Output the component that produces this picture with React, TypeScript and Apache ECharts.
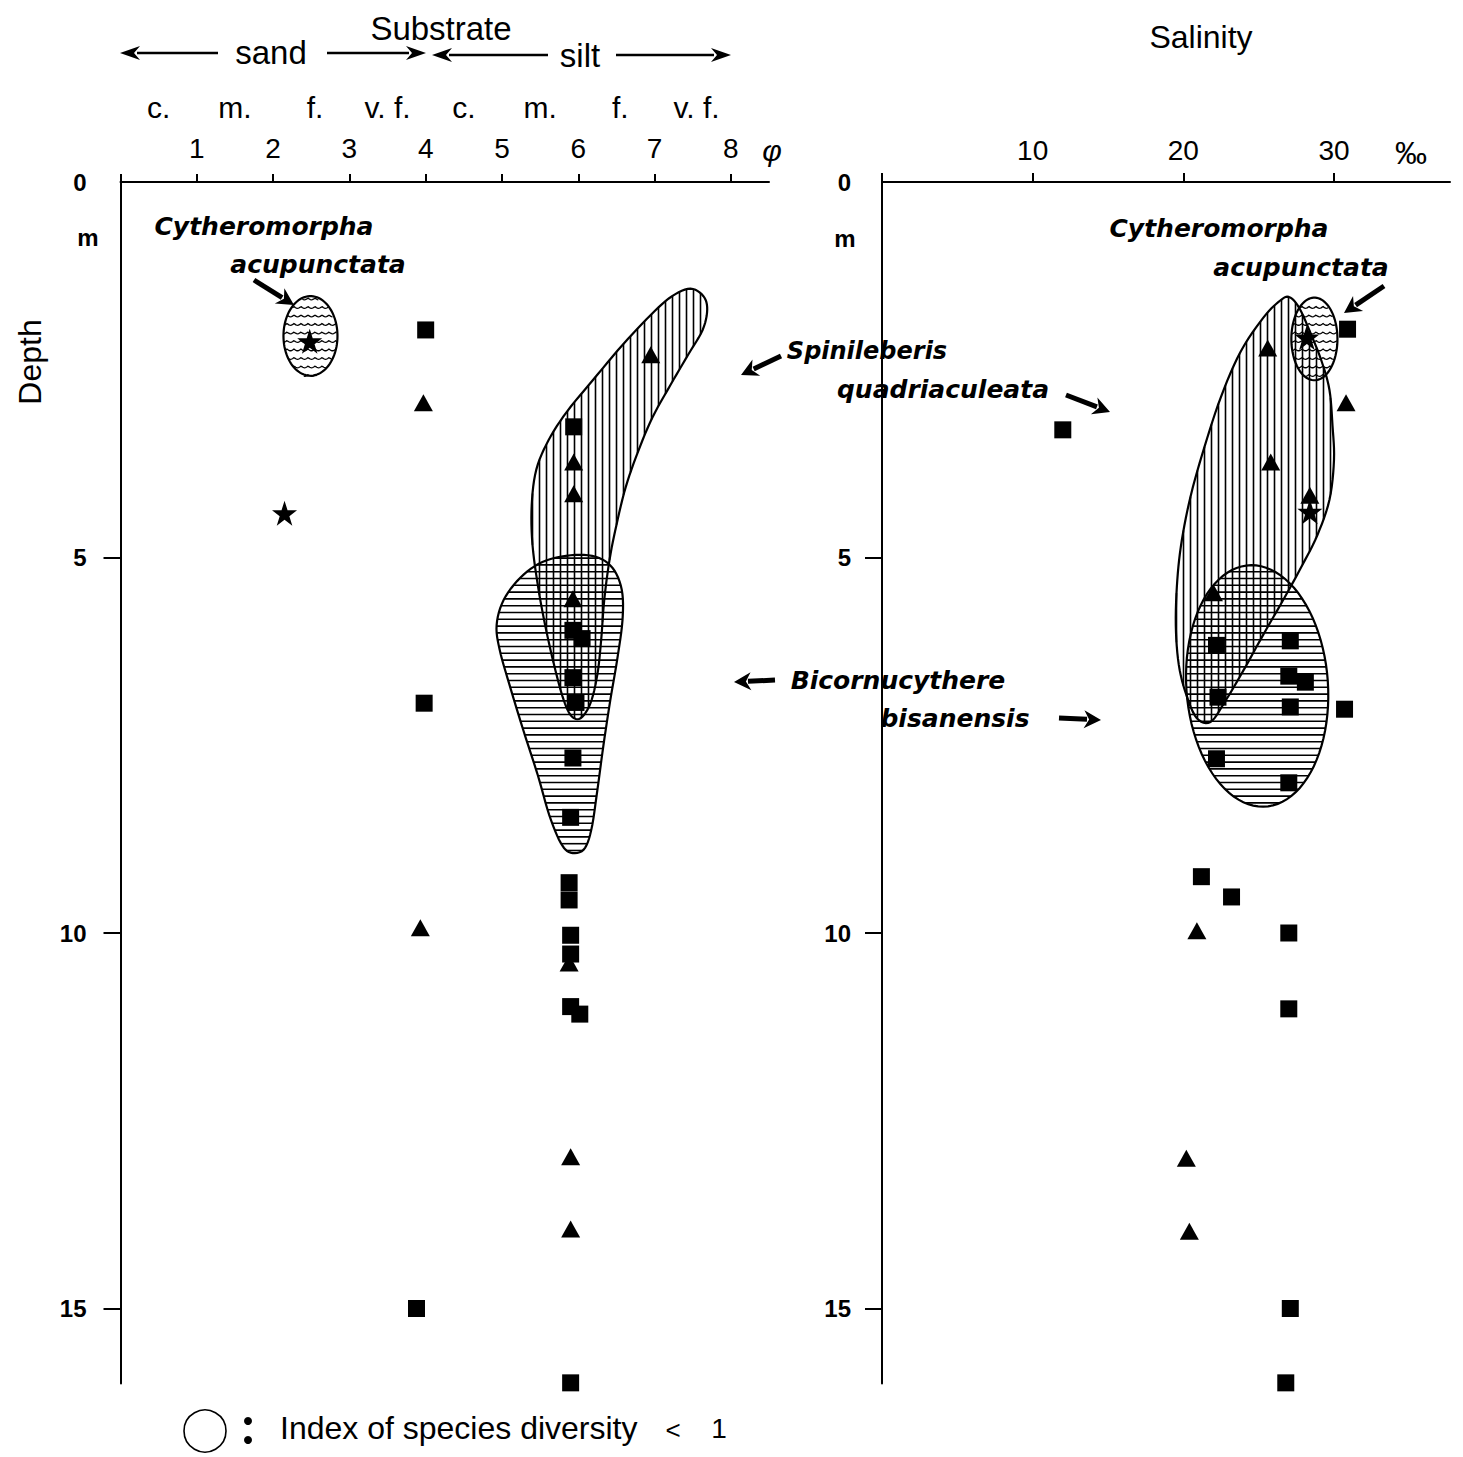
import { useEffect, useRef } from "react";
import * as echarts from "echarts";

const FONT = '"Liberation Sans", Arial, Helvetica, sans-serif';
const LABEL_FONT = '"DejaVu Sans", sans-serif';

// ---- axes ----
const phiTicks = [0, 1, 2, 3, 4, 5, 6, 7, 8];
const phiLabels = [1, 2, 3, 4, 5, 6, 7, 8];
const sizeClassPos = [0.5, 1.5, 2.55, 3.5, 4.5, 5.5, 6.55, 7.55];
const sizeClasses = ["c.", "m.", "f.", "v. f.", "c.", "m.", "f.", "v. f."];
const salinityTicks = [0, 10, 20, 30];
const salinityLabels = [10, 20, 30];
const depthLabels = [0, 5, 10, 15];
const depthTicks = [5, 10, 15];

// ---- left panel: substrate (phi) vs depth (m) ----
const leftSquares = [
  [4.0, 1.97], [5.94, 3.26], [5.93, 5.97], [6.05, 6.08], [5.93, 6.6], [5.97, 6.93],
  [5.93, 7.67], [5.9, 8.46], [5.88, 9.33], [5.88, 9.56], [5.9, 10.03], [5.9, 10.28],
  [5.9, 10.98], [6.02, 11.08], [3.98, 6.94], [3.88, 15.0], [5.9, 15.99],
];
const leftTriangles = [
  [3.97, 2.94], [6.95, 2.3], [5.94, 3.73], [5.94, 4.15], [5.93, 5.55],
  [3.93, 9.93], [5.88, 10.4], [5.9, 12.98], [5.9, 13.94],
];
const leftStars = [[2.48, 2.12], [2.15, 4.41]];

// ---- right panel: salinity (‰) vs depth (m) ----
const rightSquares = [
  [12.0, 3.3], [30.9, 1.96], [22.2, 6.17], [27.1, 6.11], [27.0, 6.58], [28.1, 6.66],
  [22.3, 6.86], [27.1, 6.99], [30.7, 7.02], [22.2, 7.68], [27.0, 8.0], [21.2, 9.25],
  [23.2, 9.52], [27.0, 10.0], [27.0, 11.01], [27.1, 15.0], [26.8, 15.99],
];
const rightTriangles = [
  [25.6, 2.21], [30.8, 2.94], [25.8, 3.73], [28.4, 4.17], [22.0, 5.47],
  [20.9, 9.97], [20.2, 13.0], [20.4, 13.97],
];
const rightStars = [[28.2, 2.07], [28.4, 4.39]];

// ---- species envelopes (outline points in data units) ----
const leftSpinileberisOutline = [
  [7.47, 1.42], [7.64, 1.52], [7.69, 1.7], [7.63, 1.97], [7.44, 2.3], [7.21, 2.7],
  [6.97, 3.14], [6.78, 3.6], [6.62, 4.07], [6.5, 4.57], [6.41, 5.03], [6.34, 5.57],
  [6.3, 6.1], [6.25, 6.56], [6.16, 6.94], [6.03, 7.14], [5.91, 7.11], [5.81, 6.9],
  [5.7, 6.5], [5.58, 5.97], [5.48, 5.43], [5.4, 4.83], [5.39, 4.3], [5.45, 3.83],
  [5.61, 3.44], [5.85, 3.06], [6.19, 2.64], [6.58, 2.17], [6.95, 1.77], [7.23, 1.52],
];
const leftBicornucythereOutline = [
  [5.9, 4.97], [6.23, 4.99], [6.45, 5.14], [6.57, 5.43], [6.58, 5.83], [6.51, 6.36],
  [6.42, 6.9], [6.33, 7.5], [6.25, 8.1], [6.17, 8.63], [6.07, 8.89], [5.9, 8.93],
  [5.77, 8.8], [5.62, 8.43], [5.47, 7.9], [5.28, 7.3], [5.1, 6.7], [4.97, 6.23],
  [4.93, 5.9], [5.02, 5.57], [5.24, 5.27], [5.53, 5.06],
];
const leftCytheroCenter = [2.49, 2.05];
const leftCytheroRadius = [0.354, 0.53];

const rightSpinileberisOutline = [
  [27.0, 1.53], [27.7, 1.68], [28.5, 2.04], [29.2, 2.4], [29.7, 2.77], [29.9, 3.24],
  [30.0, 3.7], [29.7, 4.23], [28.9, 4.7], [27.9, 5.1], [26.7, 5.54], [25.3, 6.03],
  [24.0, 6.5], [22.7, 6.94], [21.8, 7.19], [20.9, 7.14], [20.2, 6.83], [19.7, 6.43],
  [19.5, 5.9], [19.6, 5.3], [19.9, 4.77], [20.5, 4.17], [21.4, 3.53], [22.5, 2.86],
  [23.8, 2.26], [25.3, 1.81], [26.3, 1.6],
];
const rightBicornuCenter = [24.9, 6.71];
const rightBicornuRadius = [4.7, 1.61];
const rightBicornuTiltDeg = -4;
const rightCytheroCenter = [28.7, 2.09];
const rightCytheroRadius = [1.53, 0.55];

const STAR = "path://M50,0 L61.8,35.5 L99,35.5 L69,57.5 L80.5,93 L50,71 L19.5,93 L31,57.5 L1,35.5 L38.2,35.5 Z";

function smoothClosed(pts: number[][], seg = 6) {
  const n = pts.length;
  const out: number[][] = [];
  for (let i = 0; i < n; i++) {
    const p0 = pts[(i - 1 + n) % n], p1 = pts[i], p2 = pts[(i + 1) % n], p3 = pts[(i + 2) % n];
    for (let s = 0; s < seg; s++) {
      const t = s / seg, t2 = t * t, t3 = t2 * t;
      const f = (a: number, b: number, c: number, d: number) =>
        0.5 * (2 * b + (-a + c) * t + (2 * a - 5 * b + 4 * c - d) * t2 + (-a + 3 * b - 3 * c + d) * t3);
      out.push([f(p0[0], p1[0], p2[0], p3[0]), f(p0[1], p1[1], p2[1], p3[1])]);
    }
  }
  return out;
}

function scan(pts: number[][], spacing: number, vertical: boolean) {
  const a = vertical ? 0 : 1;
  const b = 1 - a;
  let min = Infinity, max = -Infinity;
  pts.forEach((p) => { min = Math.min(min, p[a]); max = Math.max(max, p[a]); });
  const res: { c: number; from: number; to: number }[] = [];
  const n = pts.length;
  for (let c = Math.ceil(min / spacing) * spacing + 0.5; c <= max; c += spacing) {
    const xs: number[] = [];
    for (let i = 0; i < n; i++) {
      const p = pts[i], q = pts[(i + 1) % n];
      if ((p[a] <= c && q[a] > c) || (q[a] <= c && p[a] > c)) {
        const t = (c - p[a]) / (q[a] - p[a]);
        xs.push(p[b] + t * (q[b] - p[b]));
      }
    }
    xs.sort((u, v) => u - v);
    for (let k = 0; k + 1 < xs.length; k += 2) res.push({ c, from: xs[k], to: xs[k + 1] });
  }
  return res;
}

function ellipsePx(api: any, center: number[], radius: number[], tiltDeg: number) {
  const c = api.coord(center);
  const e = api.coord([center[0] + radius[0], center[1] + radius[1]]);
  const rx = Math.abs(e[0] - c[0]);
  const ry = Math.abs(e[1] - c[1]);
  const th = (tiltDeg * Math.PI) / 180;
  const pts: number[][] = [];
  for (let i = 0; i < 90; i++) {
    const t = (i / 90) * Math.PI * 2;
    const ex = rx * Math.cos(t), ey = ry * Math.sin(t);
    pts.push([c[0] + ex * Math.cos(th) - ey * Math.sin(th), c[1] + ex * Math.sin(th) + ey * Math.cos(th)]);
  }
  return pts;
}

function envelope(idx: number, getPts: (api: any) => number[][], hatch: "v" | "h" | "w") {
  return {
    type: "custom",
    coordinateSystem: "cartesian2d",
    xAxisIndex: idx,
    yAxisIndex: idx,
    data: [[0, 0]],
    silent: true,
    clip: false,
    z: 2,
    renderItem: (params: any, api: any) => {
      const pts = getPts(api);
      const children: any[] = [];
      const lineStyle = { stroke: "#000", lineWidth: 1.6 };
      if (hatch === "v") {
        scan(pts, 7, true).forEach((s) =>
          children.push({ type: "line", shape: { x1: s.c, y1: s.from, x2: s.c, y2: s.to }, style: lineStyle }));
      } else if (hatch === "h") {
        scan(pts, 6.8, false).forEach((s) =>
          children.push({ type: "line", shape: { x1: s.from, y1: s.c, x2: s.to, y2: s.c }, style: lineStyle }));
      } else {
        scan(pts, 8.5, false).forEach((s) => {
          const line: number[][] = [];
          for (let x = s.from; x <= s.to; x += 1) {
            line.push([x, s.c + 1.8 * Math.abs(Math.sin((x * Math.PI) / 7))]);
          }
          if (line.length > 1) children.push({ type: "polyline", shape: { points: line }, style: { stroke: "#000", lineWidth: 1.3, fill: null } });
        });
      }
      children.push({ type: "polygon", shape: { points: pts }, style: { fill: null, stroke: "#000", lineWidth: 2.2 } });
      return { type: "group", children };
    },
  };
}

function arrow(x1: number, y1: number, x2: number, y2: number, head = 20, half = 7, width = 2.4) {
  const dx = x2 - x1, dy = y2 - y1, L = Math.hypot(dx, dy);
  const ux = dx / L, uy = dy / L, nx = -uy, ny = ux;
  const bx = x2 - ux * head, by = y2 - uy * head;
  return [
    { type: "line", silent: true, shape: { x1, y1, x2: bx + ux * 3, y2: by + uy * 3 }, style: { stroke: "#000", lineWidth: width } },
    {
      type: "polygon", silent: true,
      shape: { points: [[x2, y2], [bx + nx * half, by + ny * half], [bx + ux * head * 0.3, by + uy * head * 0.3], [bx - nx * half, by - ny * half]] },
      style: { fill: "#000" },
    },
  ];
}

function txt(text: string, x: number, y: number, size: number, opts: any = {}) {
  return {
    type: "text", x, y, silent: true, rotation: opts.rotation || 0,
    style: {
      text, fill: "#000", fontSize: size, fontFamily: opts.family || FONT,
      fontWeight: opts.weight || "normal", fontStyle: opts.style || "normal",
      align: opts.align || "center", verticalAlign: "middle",
      textAlign: opts.align || "center", textVerticalAlign: "middle",
    },
  };
}

function species(text: string, x: number, y: number, size = 25) {
  return txt(text, x, y, size, { family: LABEL_FONT, weight: "bold", style: "italic" });
}

const axisLineStyle = { color: "#000", width: 2 };
const markStyle = { color: "#000", opacity: 1 };

export default function App() {
  const ref = useRef<HTMLDivElement>(null);
  useEffect(() => {
    if (!ref.current) return;
    const chart = echarts.init(ref.current, null, { renderer: "svg" });
    const yAxisBase = (gridIndex: number, margin: number) => ({
      type: "value", gridIndex, inverse: true, min: 0, max: 16,
      axisLine: { show: true, lineStyle: axisLineStyle },
      axisTick: { show: true, customValues: depthTicks, length: 17, inside: false, lineStyle: axisLineStyle },
      axisLabel: { show: true, customValues: depthLabels, margin, fontSize: 24, fontWeight: "bold", color: "#000", fontFamily: FONT },
      splitLine: { show: false },
    });
    const scatter = (idx: number, data: number[][], symbol: string, size: any) => ({
      type: "scatter", xAxisIndex: idx, yAxisIndex: idx, data, symbol, symbolSize: size,
      itemStyle: markStyle, z: 5, silent: true,
    });
    chart.setOption({
      animation: false,
      backgroundColor: "#fff",
      grid: [
        { left: 120.5, top: 182, width: 648.5, height: 1201.6, containLabel: false, outerBoundsMode: "none" },
        { left: 882, top: 182, width: 568, height: 1201.6, containLabel: false, outerBoundsMode: "none" },
      ],
      xAxis: [
        {
          type: "value", gridIndex: 0, position: "top", min: 0, max: 8.5,
          axisLine: { show: true, lineStyle: axisLineStyle },
          axisTick: { show: true, customValues: phiTicks, length: 8, inside: false, lineStyle: axisLineStyle },
          axisLabel: { show: true, customValues: phiLabels, margin: 20, fontSize: 28, color: "#000", fontFamily: FONT },
          splitLine: { show: false },
        },
        {
          type: "value", gridIndex: 1, position: "top", min: 0, max: 37.7,
          axisLine: { show: true, lineStyle: axisLineStyle },
          axisTick: { show: true, customValues: salinityTicks, length: 9, inside: false, lineStyle: axisLineStyle },
          axisLabel: { show: true, customValues: salinityLabels, margin: 18, fontSize: 28, color: "#000", fontFamily: FONT },
          splitLine: { show: false },
        },
        {
          type: "value", gridIndex: 0, position: "top", min: 0, max: 8.5, offset: 60,
          axisLine: { show: false }, axisTick: { show: false }, splitLine: { show: false },
          axisLabel: {
            show: true, customValues: sizeClassPos, margin: 0, fontSize: 30, color: "#000", fontFamily: FONT,
            formatter: (v: number) => sizeClasses[sizeClassPos.indexOf(v)] ?? "",
          },
        },
      ],
      yAxis: [yAxisBase(0, 34), yAxisBase(1, 31)],
      series: [
        envelope(0, (api) => smoothClosed(leftSpinileberisOutline.map((p) => api.coord(p))), "v"),
        envelope(0, (api) => smoothClosed(leftBicornucythereOutline.map((p) => api.coord(p))), "h"),
        envelope(0, (api) => ellipsePx(api, leftCytheroCenter, leftCytheroRadius, 0), "w"),
        envelope(1, (api) => smoothClosed(rightSpinileberisOutline.map((p) => api.coord(p))), "v"),
        envelope(1, (api) => ellipsePx(api, rightBicornuCenter, rightBicornuRadius, rightBicornuTiltDeg), "h"),
        envelope(1, (api) => ellipsePx(api, rightCytheroCenter, rightCytheroRadius, 0), "w"),
        scatter(0, leftSquares, "rect", 17),
        scatter(0, leftTriangles, "triangle", [19, 17]),
        scatter(0, leftStars, STAR, 25),
        scatter(1, rightSquares, "rect", 17),
        scatter(1, rightTriangles, "triangle", [19, 17]),
        scatter(1, rightStars, STAR, 25),
      ],
      graphic: [
        txt("Substrate", 441, 28, 33),
        txt("sand", 271, 52, 33),
        txt("silt", 580, 55, 33),
        ...arrow(218, 53, 120, 53),
        ...arrow(327, 53, 426, 53),
        ...arrow(548, 55, 432, 55),
        ...arrow(616, 55, 731, 55),
        txt("φ", 772, 150, 30, { style: "italic" }),
        txt("Salinity", 1201, 37, 32),
        txt("‰", 1411, 153, 32),
        txt("m", 88, 237, 24, { weight: "bold" }),
        txt("m", 845, 238, 24, { weight: "bold" }),
        txt("Depth", 30, 362, 32, { rotation: Math.PI / 2 }),
        species("Cytheromorpha", 264, 226),
        species("acupunctata", 318, 264),
        ...arrow(254, 280, 294, 305, 17, 9, 5),
        species("Cytheromorpha", 1219, 228),
        species("acupunctata", 1301, 267),
        ...arrow(1384, 286, 1344, 313, 17, 9, 5),
        species("Spinileberis", 867, 351, 24),
        species("quadriaculeata", 943, 389),
        ...arrow(781, 356, 741, 375, 17, 9, 5),
        ...arrow(1066, 395, 1110, 412, 17, 9, 5),
        species("Bicornucythere", 898, 680),
        species("bisanensis", 955, 718),
        ...arrow(775, 680, 734, 682, 17, 9, 5),
        ...arrow(1059, 718, 1101, 720, 17, 9, 5),
        { type: "circle", silent: true, shape: { cx: 205, cy: 1431, r: 21 }, style: { fill: "none", stroke: "#000", lineWidth: 1.6 } },
        { type: "circle", silent: true, shape: { cx: 248, cy: 1421, r: 4 }, style: { fill: "#000" } },
        { type: "circle", silent: true, shape: { cx: 248, cy: 1440, r: 4 }, style: { fill: "#000" } },
        txt("Index of species diversity", 280, 1428, 32, { align: "left" }),
        txt("<", 673, 1430, 26),
        txt("1", 719, 1428, 28),
      ],
    });
    return () => chart.dispose();
  }, []);
  return (
    <div
      ref={ref}
      style={{ position: "absolute", left: 0, top: 0, width: 1463, height: 1457, background: "#fff" }}
    />
  );
}
